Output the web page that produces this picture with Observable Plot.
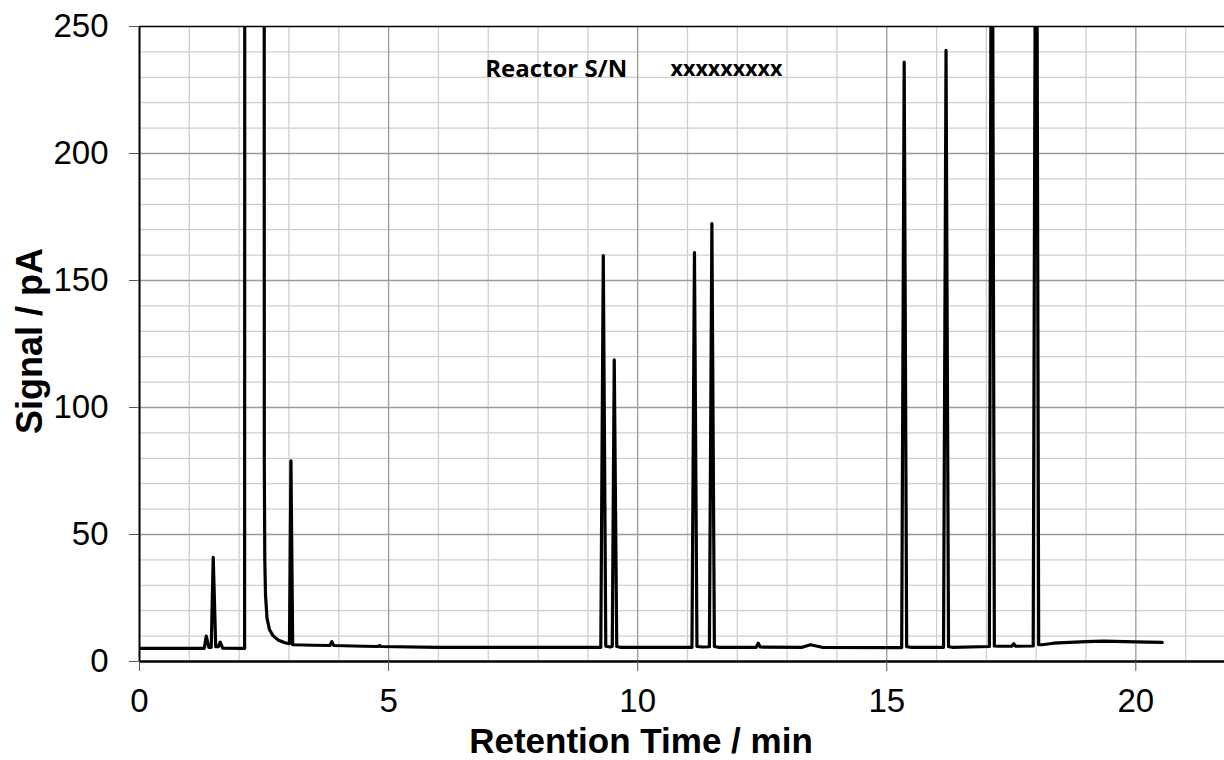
<!DOCTYPE html>
<html>
<head>
<meta charset="utf-8">
<script src="https://cdn.jsdelivr.net/npm/d3@7"></script>
<script src="https://cdn.jsdelivr.net/npm/@observablehq/plot@0.6"></script>
<style>
  html, body { margin: 0; padding: 0; background: white; }
  #chart svg { display: block; }
</style>
</head>
<body>
<div id="chart"></div>
<script>
// Chromatogram trace (retention time in min, signal in pA)
const times = [
  0.00, 1.30, 1.34, 1.39, 1.44, 1.48, 1.53, 1.58, 1.62, 1.67, 2.11,
  2.13, 2.49, 2.505, 2.515, 2.53, 2.56, 2.61, 2.68, 2.78, 2.92, 3.01,
  3.04, 3.075, 3.50, 3.82, 3.86, 3.90, 4.50, 4.79, 4.82, 4.85, 6.00,
  9.26, 9.31, 9.36, 9.45, 9.49, 9.53, 9.58, 9.65, 11.09, 11.14, 11.19,
  11.30, 11.44, 11.49, 11.54, 11.62, 12.38, 12.42, 12.46, 13.30, 13.47,
  13.70, 15.30, 15.35, 15.40, 15.48, 16.14, 16.19, 16.24, 16.32, 17.06,
  17.11, 17.16, 17.24, 17.51, 17.55, 17.59, 17.94, 18.00, 18.05, 18.12,
  18.35, 19.00, 19.35, 20.00, 20.53
];
const signals = [
  5.2, 5.2, 10.0, 5.6, 5.6, 41.0, 5.8, 5.8, 7.6, 5.3, 5.2,
  2000, 2000, 80, 40, 26, 17, 12.5, 10.2, 8.5, 7.4, 7.0,
  79.0, 6.6, 6.4, 6.3, 7.8, 6.3, 6.0, 5.9, 6.3, 5.9, 5.6,
  5.6, 159.8, 6.0, 5.7, 6.0, 118.8, 5.9, 5.6, 5.6, 161.0, 5.9,
  5.7, 5.8, 172.4, 5.9, 5.6, 5.6, 7.2, 5.7, 5.6, 6.6,
  5.6, 5.5, 236.0, 5.8, 5.6, 5.6, 240.6, 5.8, 5.6, 5.9,
  400, 6.1, 6.0, 6.0, 7.0, 6.0, 6.1, 400, 6.6, 6.6,
  7.2, 7.8, 8.0, 7.7, 7.5
];

const xMinor = [1,2,3,4,6,7,8,9,11,12,13,14,16,17,18,19,21];
const xMajor = [5,10,15,20];
const yMinor = [10,20,30,40,60,70,80,90,110,120,130,140,160,170,180,190,210,220,230,240];
const yMajor = [50,100,150,200];
const xTicks = [0,5,10,15,20];
const yTicks = [0,50,100,150,200,250];

const annLabels = ["Reactor S/N", "xxxxxxxxx"];
const annX = [6.94, 10.66];
const annY = [233.2, 233.2];
const annSizes = [24, 21.5];

const trace = times.map((t, i) => ({t, s: signals[i]}));
const ann = annLabels.map((label, i) => ({label, x: annX[i], y: annY[i], size: annSizes[i]}));

const chart = Plot.plot({
  width: 1224,
  height: 760,
  marginLeft: 139,
  marginRight: 0,
  marginTop: 26,
  marginBottom: 99,
  x: {domain: [0, 21.78]},
  y: {domain: [0, 250]},
  style: {fontFamily: "'Liberation Sans', Arial, sans-serif", background: "white", color: "black"},
  marks: [
    Plot.ruleX(xMinor, {stroke: "#cfcfcf", strokeWidth: 1.3}),
    Plot.ruleY(yMinor, {stroke: "#cfcfcf", strokeWidth: 1.3}),
    Plot.ruleX(xMajor, {stroke: "#9a9a9a", strokeWidth: 1.3}),
    Plot.ruleY(yMajor, {stroke: "#9a9a9a", strokeWidth: 1.3}),
    Plot.line(trace, {x: "t", y: "s", stroke: "black", strokeWidth: 3.2,
      strokeLinecap: "round", strokeLinejoin: "round", clip: true}),
    Plot.ruleY([250], {stroke: "black", strokeWidth: 1.6}),
    Plot.ruleX([0], {stroke: "black", strokeWidth: 2}),
    Plot.ruleY([0], {stroke: "black", strokeWidth: 2.6}),
    Plot.axisY({ticks: yTicks, tickSize: 10, tickFormat: () => "", color: "#595959", label: null}),
    Plot.axisY({ticks: yTicks, tickSize: 0, tickPadding: 31, fontSize: 33, color: "black", label: null}),
    Plot.axisX({ticks: xTicks, tickSize: 10, tickFormat: () => "", color: "#595959", label: null}),
    Plot.axisX({ticks: xTicks, tickSize: 0, tickPadding: 27.5, fontSize: 33, color: "black", label: null}),
    Plot.text(["Signal / pA"], {frameAnchor: "left", textAnchor: "middle", lineAnchor: "middle", rotate: -90, dx: -109, dy: -3,
      fontSize: 36, fontWeight: "bold", fill: "black"}),
    Plot.text(["Retention Time / min"], {frameAnchor: "bottom", textAnchor: "middle", lineAnchor: "middle", dy: 80, dx: -41,
      fontSize: 35, fontWeight: "bold", fill: "black"}),
    Plot.text(ann, {x: "x", y: "y", text: "label", textAnchor: "start", fontFamily: "'Open Sans', sans-serif",
      fontWeight: "bold", fontSize: "size", fill: "black"})
  ]
});
document.getElementById("chart").appendChild(chart);
</script>
</body>
</html>
